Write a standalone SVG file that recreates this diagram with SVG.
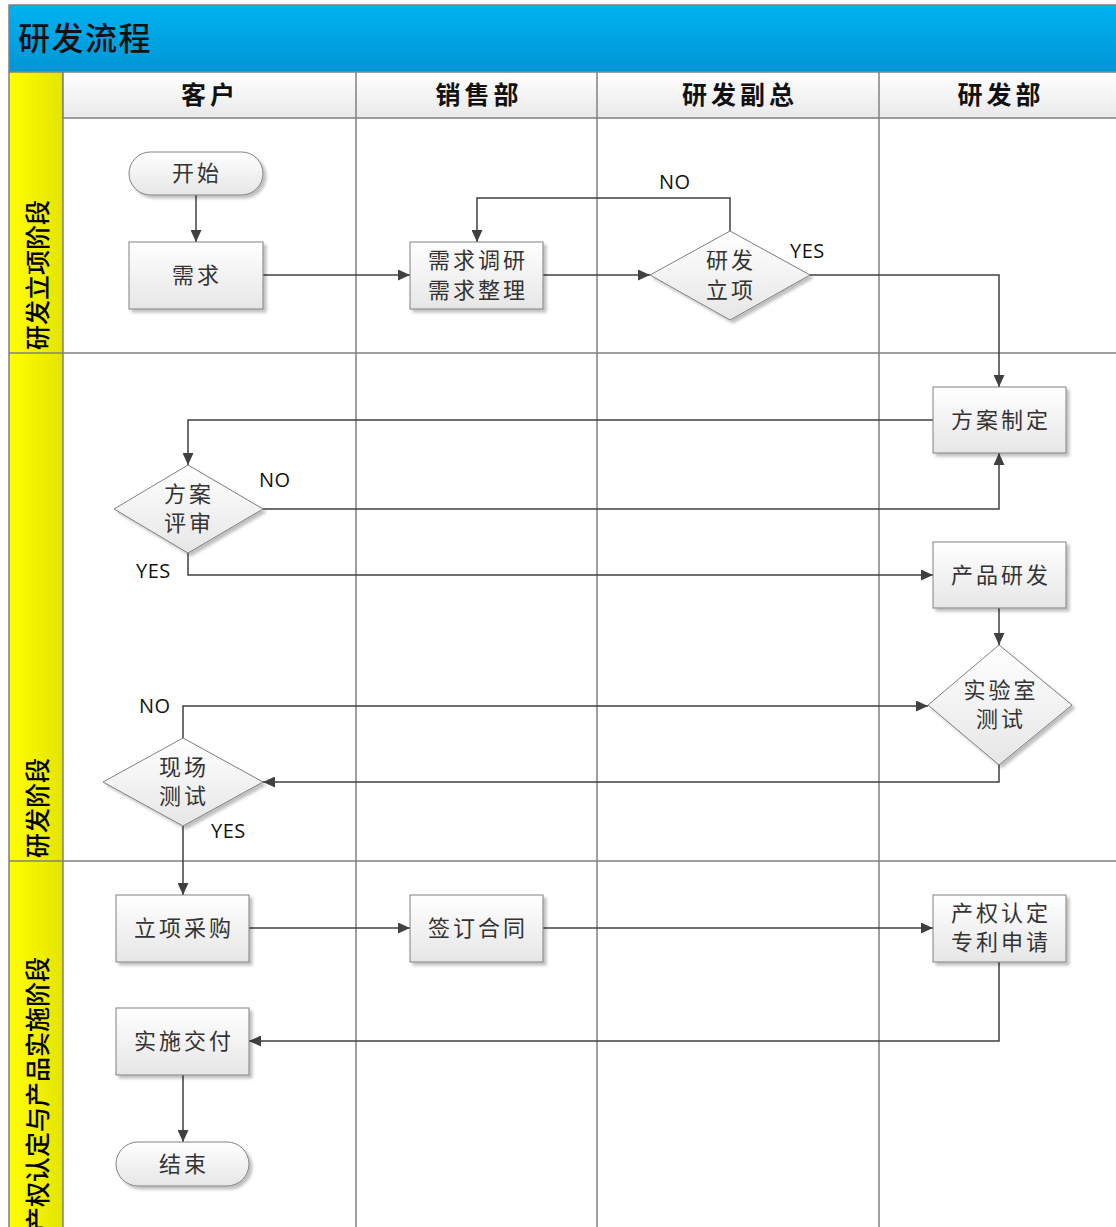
<svg xmlns="http://www.w3.org/2000/svg" width="1116" height="1227" viewBox="0 0 1116 1227">
<defs>
<linearGradient id="gTitle" x1="0" y1="0" x2="0" y2="1"><stop offset="0" stop-color="#00b2f0"/><stop offset="1" stop-color="#0096d6"/></linearGradient>
<linearGradient id="gHead" x1="0" y1="0" x2="0" y2="1"><stop offset="0" stop-color="#ffffff"/><stop offset="1" stop-color="#e9e9e9"/></linearGradient>
<linearGradient id="gLane" x1="0" y1="0" x2="1" y2="0"><stop offset="0" stop-color="#ffff00"/><stop offset="1" stop-color="#e4e400"/></linearGradient>
<linearGradient id="gNode" x1="0" y1="0" x2="0" y2="1"><stop offset="0" stop-color="#ffffff"/><stop offset="1" stop-color="#e6e6e6"/></linearGradient>
<filter id="sh" x="-10%" y="-10%" width="130%" height="130%"><feDropShadow dx="3" dy="3" stdDeviation="1.5" flood-color="#000" flood-opacity="0.25"/></filter>
<marker id="arr" markerUnits="userSpaceOnUse" markerWidth="13" markerHeight="11" refX="12" refY="5.5" orient="auto"><path d="M0,0 L12,5.5 L0,11 z" fill="#404040"/></marker>
</defs>
<style>
.grid{stroke:#808080;stroke-width:1.5;fill:none}
.node{fill:url(#gNode);stroke:#808080;stroke-width:1;filter:url(#sh)}
.t{font-family:"Noto Sans CJK SC","Noto Sans",sans-serif;font-size:22px;fill:#333;text-anchor:middle;letter-spacing:3px}
.hd{font-family:"Noto Sans CJK SC","Noto Sans",sans-serif;font-size:25px;font-weight:bold;fill:#111;text-anchor:middle;letter-spacing:4px}
.ln{font-family:"Noto Sans CJK SC","Noto Sans",sans-serif;font-size:25px;font-weight:500;fill:#000;letter-spacing:0px}
.lbl{font-family:"Open Sans","DejaVu Sans",sans-serif;font-size:20px;font-weight:500;fill:#111;letter-spacing:0.5px}
.c{fill:none;stroke:#404040;stroke-width:1.5;marker-end:url(#arr)}
</style>
<rect x="0" y="0" width="1116" height="1227" fill="#ffffff"/>
<g id="title">
<rect x="9" y="5" width="1110" height="67" fill="url(#gTitle)" stroke="#808080" stroke-width="1.5"/>
<text x="18" y="50" font-family="Noto Sans CJK SC,sans-serif" font-size="32" font-weight="500" letter-spacing="1.5" fill="#111">研发流程</text>
</g>
<g id="header">
<rect x="9" y="72" width="54" height="1170" fill="url(#gLane)" stroke="#808080" stroke-width="1.5"/>
<rect x="63" y="72" width="1056" height="46" fill="url(#gHead)" stroke="#808080" stroke-width="1.5"/>
<text class="hd" x="210" y="104">客户</text>
<text class="hd" x="479" y="104">销售部</text>
<text class="hd" x="740" y="104">研发副总</text>
<text class="hd" x="1001" y="104">研发部</text>
</g>
<g id="grid">
<line class="grid" x1="356" y1="72" x2="356" y2="1240"/>
<line class="grid" x1="597" y1="72" x2="597" y2="1240"/>
<line class="grid" x1="879" y1="72" x2="879" y2="1240"/>
<line class="grid" x1="9" y1="353" x2="1116" y2="353"/>
<line class="grid" x1="9" y1="861" x2="1116" y2="861"/>
</g>
<g id="lanes">
<text class="ln" transform="translate(47,350) rotate(-90)">研发立项阶段</text>
<text class="ln" transform="translate(47,858) rotate(-90)">研发阶段</text>
<text class="ln" transform="translate(47,1232) rotate(-90)">产权认定与产品实施阶段</text>
</g>
<g id="connectors">
<path class="c" d="M196,195 L196,242"/>
<path class="c" d="M263,275 L410,275"/>
<path class="c" d="M543,275 L650,275"/>
<path class="c" d="M730,231 L730,198 L477,198 L477,242"/>
<path class="c" d="M810,275 L999,275 L999,387"/>
<path class="c" d="M933,420 L188,420 L188,465"/>
<path class="c" d="M263,509 L999,509 L999,453"/>
<path class="c" d="M188,553 L188,575 L933,575"/>
<path class="c" d="M999,608 L999,645"/>
<path class="c" d="M999,765 L999,782 L263,782"/>
<path class="c" d="M183,738 L183,706 L928,706"/>
<path class="c" d="M183,826 L183,895"/>
<path class="c" d="M249,928 L410,928"/>
<path class="c" d="M543,928 L933,928"/>
<path class="c" d="M999,962 L999,1041 L249,1041"/>
<path class="c" d="M183,1075 L183,1142"/>
<text class="lbl" x="659" y="189">NO</text>
<text class="lbl" x="790" y="258">YES</text>
<text class="lbl" x="259" y="487">NO</text>
<text class="lbl" x="136" y="578">YES</text>
<text class="lbl" x="139" y="713">NO</text>
<text class="lbl" x="211" y="838">YES</text>
</g>
<g id="n_start"><rect class="node" x="129" y="152" width="134" height="43" rx="21.5"/><text class="t" x="197" y="181">开始</text></g>
<g id="n_xuqiu"><rect class="node" x="129" y="242" width="134" height="67"/><text class="t" x="197" y="283">需求</text></g>
<g id="n_diaoyan"><rect class="node" x="410" y="242" width="133" height="67"/><text class="t" x="478" y="268">需求调研</text><text class="t" x="478" y="298">需求整理</text></g>
<g id="n_lixiang"><polygon class="node" points="730,231 810,275 730,320 650,275"/><text class="t" x="731" y="268">研发</text><text class="t" x="731" y="298">立项</text></g>
<g id="n_fangan"><rect class="node" x="933" y="387" width="133" height="66"/><text class="t" x="1001" y="428">方案制定</text></g>
<g id="n_pingshen"><polygon class="node" points="188,465 263,509 188,553 114,509"/><text class="t" x="189" y="502">方案</text><text class="t" x="189" y="531">评审</text></g>
<g id="n_yanfa"><rect class="node" x="933" y="542" width="133" height="66"/><text class="t" x="1001" y="583">产品研发</text></g>
<g id="n_shiyan"><polygon class="node" points="999,645 1072,705 999,765 928,705"/><text class="t" x="1001" y="698">实验室</text><text class="t" x="1001" y="727">测试</text></g>
<g id="n_xianchang"><polygon class="node" points="183,738 263,782 183,826 103,782"/><text class="t" x="184" y="775">现场</text><text class="t" x="184" y="804">测试</text></g>
<g id="n_caigou"><rect class="node" x="116" y="895" width="133" height="67"/><text class="t" x="184" y="936">立项采购</text></g>
<g id="n_hetong"><rect class="node" x="410" y="895" width="133" height="67"/><text class="t" x="478" y="936">签订合同</text></g>
<g id="n_chanquan"><rect class="node" x="933" y="895" width="133" height="67"/><text class="t" x="1001" y="921">产权认定</text><text class="t" x="1001" y="950">专利申请</text></g>
<g id="n_jiaofu"><rect class="node" x="116" y="1008" width="133" height="67"/><text class="t" x="184" y="1049">实施交付</text></g>
<g id="n_end"><rect class="node" x="116" y="1142" width="133" height="44" rx="22"/><text class="t" x="184" y="1172">结束</text></g>
</svg>
